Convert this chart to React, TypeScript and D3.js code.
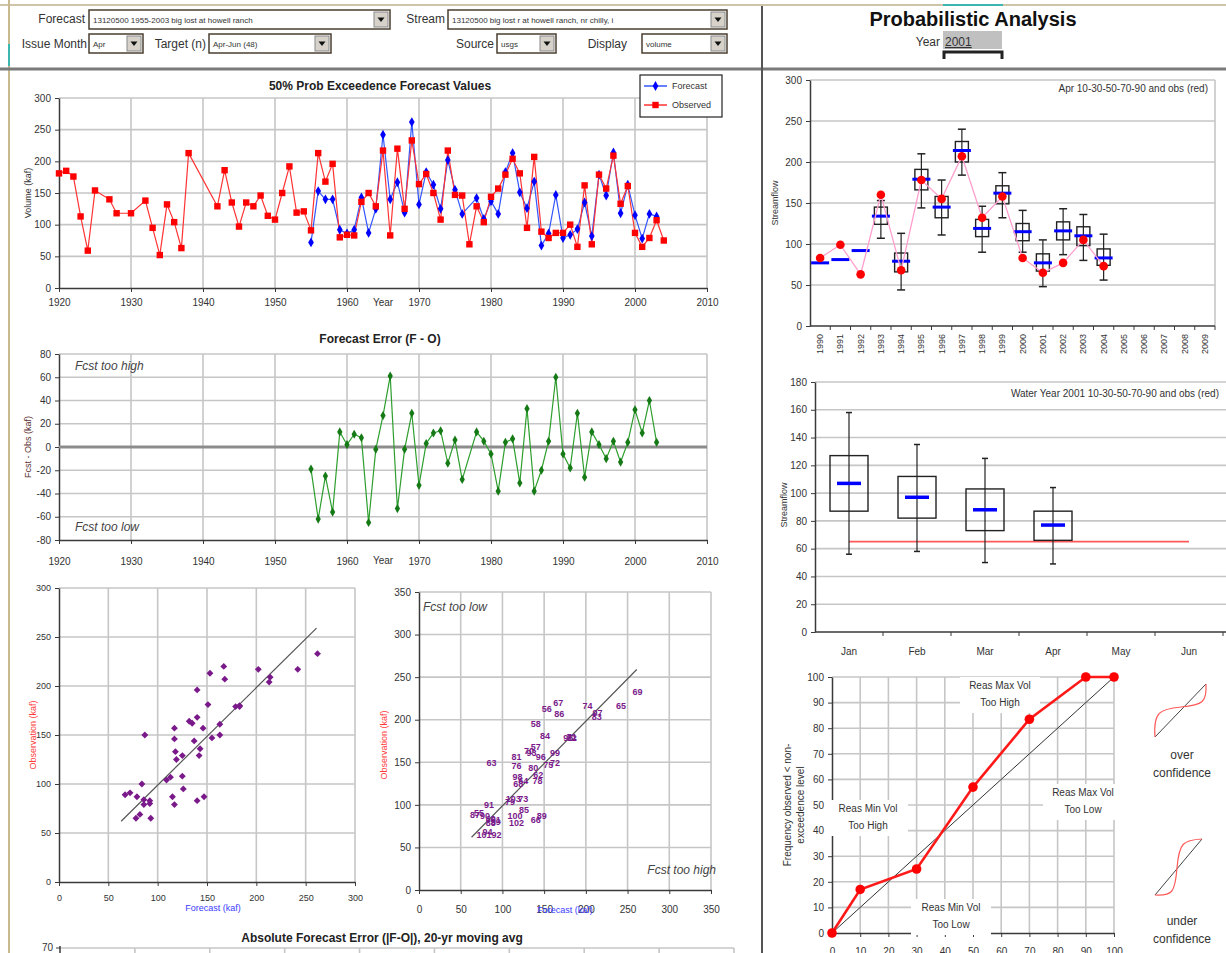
import React, { useEffect, useRef } from 'react';
import * as d3 from 'd3';

const FONT = '"Liberation Sans", Arial, sans-serif';

// 50% exceedence forecast and observed Apr-Jun volume (kaf)
const obsYears = [1920, 1921, 1922, 1923, 1924, 1925, 1927, 1928, 1930, 1932, 1933, 1934, 1935, 1936, 1937, 1938,
  1942, 1943, 1944, 1945, 1946, 1947, 1948, 1949, 1950, 1951, 1952, 1953, 1954,
  1955, 1956, 1957, 1958, 1959, 1960, 1961, 1962, 1963, 1964, 1965, 1966, 1967, 1968, 1969,
  1970, 1971, 1972, 1973, 1974, 1975, 1976, 1977, 1978, 1979, 1980, 1981, 1982, 1983, 1984,
  1985, 1986, 1987, 1988, 1989, 1990, 1991, 1992, 1993, 1994, 1995, 1996, 1997, 1998, 1999,
  2000, 2001, 2002, 2003, 2004];
const obsValues = [181, 185, 176, 113, 59, 154, 140, 118, 118, 138, 95, 52, 132, 104, 63, 213,
  129, 186, 135, 97, 135, 129, 146, 114, 108, 150, 192, 119, 121,
  91, 213, 168, 196, 80, 84, 83, 136, 150, 129, 217, 83, 220, 125, 233,
  164, 180, 150, 108, 217, 147, 146, 69, 129, 104, 144, 157, 179, 204, 181,
  95, 207, 89, 79, 87, 87, 100, 65, 162, 69, 179, 157, 209, 133, 161,
  87, 65, 79, 107, 75];

const fcstYears = [1955, 1956, 1957, 1958, 1959, 1960, 1961, 1962, 1963, 1964, 1965, 1966, 1967, 1968, 1969,
  1970, 1971, 1972, 1973, 1974, 1975, 1976, 1978, 1979, 1980, 1981, 1982, 1983, 1984,
  1985, 1986, 1987, 1988, 1989, 1990, 1991, 1992, 1993, 1994, 1995, 1996, 1997, 1998, 1999,
  2000, 2001, 2002, 2003];
const fcstValues = [72, 153, 140, 140, 92, 86, 92, 143, 87, 125, 242, 140, 167, 119, 262,
  132, 183, 163, 125, 202, 155, 117, 142, 109, 137, 117, 183, 213, 151,
  126, 168, 67, 86, 147, 79, 84, 93, 135, 82, 179, 146, 214, 118, 163,
  115, 78, 117, 113];

// forecast error F - O (kaf), same years as the forecasts
const errValues = [-19, -62, -25, -56, 13, 2, 11, 8, -65, -2, 27, 61, -53, -2, 29,
  -33, 3, 12, 14, -14, 6, -28, 13, 5, -6, -38, 4, 7, -31,
  33, -38, -20, 5, 60, -6, -18, 29, -26, 13, 2, -10, 5, -13, 4,
  32, 12, 40, 4];

const fitLine = [[63, 62], [261, 259]];
const yearTicks = [1920, 1930, 1940, 1950, 1960, 1970, 1980, 1990, 2000, 2010];

// April forecast distribution per year
const aprYears = ['1990', '1991', '1992', '1993', '1994', '1995', '1996', '1997', '1998', '1999',
  '2000', '2001', '2002', '2003', '2004', '2005', '2006', '2007', '2008', '2009'];
const aprP10 = [null, null, null, 107, 44, 144, 111, 184, 90, 132, 90, 48, 87, 80, 56];
const aprP30 = [null, null, null, 124, 66, 166, 132, 200, 109, 149, 104, 67, 105, 98, 74];
const aprP50 = [77, 81, 92, 134, 79, 179, 145, 214, 119, 162, 115, 77, 116, 110, 83];
const aprP70 = [null, null, null, 145, 89, 191, 158, 225, 130, 171, 125, 88, 127, 121, 94];
const aprP90 = [null, null, null, 153, 113, 210, 178, 240, 146, 187, 141, 105, 143, 136, 112];
const aprObs = [83, 99, 63, 160, 68, 178, 155, 207, 132, 158, 83, 65, 77, 105, 73];

// water year 2001 forecasts by issue month
const months = ['Jan', 'Feb', 'Mar', 'Apr', 'May', 'Jun'];
const wyP10 = [56, 58, 50, 49];
const wyP30 = [87, 82, 73, 66];
const wyP50 = [107, 97, 88, 77];
const wyP70 = [127, 112, 103, 87];
const wyP90 = [158, 135, 125, 104];
const wyObs = 65;

// reliability
const relLevels = [0, 10, 30, 50, 70, 90, 100];
const relFreq = [0, 17, 25, 57, 83.5, 100, 100];

const GRID = '#c6c6c6';
const AXIS = '#3a3a3a';
const TICK_TXT = '#333';

function txt(g: any, x: number, y: number, s: string, size: number, opts: any = {}) {
  const t = g.append('text')
    .attr('x', x).attr('y', y)
    .attr('font-family', FONT)
    .attr('font-size', size)
    .attr('fill', opts.fill || '#222')
    .attr('text-anchor', opts.anchor || 'start')
    .text(s);
  if (opts.bold) t.attr('font-weight', 'bold');
  if (opts.italic) t.attr('font-style', 'italic');
  return t;
}

function vtxt(g: any, x: number, y: number, s: string, size: number, fill: string) {
  g.append('text')
    .attr('transform', `translate(${x},${y}) rotate(-90)`)
    .attr('font-family', FONT).attr('font-size', size)
    .attr('fill', fill).attr('text-anchor', 'middle')
    .text(s);
}

function hGrid(g: any, x0: number, x1: number, y: any, ticks: number[]) {
  ticks.forEach(t => g.append('line')
    .attr('x1', x0).attr('x2', x1).attr('y1', y(t)).attr('y2', y(t))
    .attr('stroke', GRID).attr('stroke-width', 1.6));
}

function vGrid(g: any, x: any, y0: number, y1: number, ticks: number[]) {
  ticks.forEach(t => g.append('line')
    .attr('x1', x(t)).attr('x2', x(t)).attr('y1', y0).attr('y2', y1)
    .attr('stroke', GRID).attr('stroke-width', 1.6));
}

function styleAxis(a: any, size = 10) {
  a.select('.domain').attr('stroke', AXIS).attr('stroke-width', 1.5);
  a.selectAll('line').attr('stroke', AXIS);
  a.selectAll('text').attr('font-family', FONT).attr('font-size', size).attr('fill', TICK_TXT);
}

function leftAxis(g: any, x: number, y: any, ticks: number[], size = 10) {
  const a = g.append('g').attr('transform', `translate(${x},0)`)
    .call(d3.axisLeft(y).tickValues(ticks).tickSize(4).tickSizeOuter(0).tickPadding(4)
      .tickFormat((d: any) => String(d)));
  styleAxis(a, size);
}

function bottomAxis(g: any, y: number, x: any, ticks: number[], pad = 6, size = 10) {
  const a = g.append('g').attr('transform', `translate(0,${y})`)
    .call(d3.axisBottom(x).tickValues(ticks).tickSize(4).tickSizeOuter(0).tickPadding(pad)
      .tickFormat((d: any) => String(d)));
  styleAxis(a, size);
}

function dropdown(g: any, x: number, y: number, w: number, h: number, label: string) {
  g.append('rect').attr('x', x).attr('y', y).attr('width', w).attr('height', h)
    .attr('fill', '#fff').attr('stroke', '#4a3f30').attr('stroke-width', 1.5);
  g.append('rect').attr('x', x + w - 16).attr('y', y + 2).attr('width', 14).attr('height', h - 4)
    .attr('fill', '#d6d2ca').attr('stroke', '#8a8a8a');
  g.append('path').attr('d', `M${x + w - 12.5},${y + h / 2 - 2} l7,0 l-3.5,4.5 z`).attr('fill', '#111');
  txt(g, x + 4, y + h / 2 + 3, label, 8, { fill: '#333' });
}

function boxPlot(g: any, cx: number, y: any, p10: number, p30: number, p50: number, p70: number, p90: number,
  boxW: number, capW: number, medW: number, medStroke: number) {
  g.append('line').attr('x1', cx).attr('x2', cx).attr('y1', y(p10)).attr('y2', y(p90))
    .attr('stroke', '#222').attr('stroke-width', 1.2);
  [p10, p90].forEach(v => g.append('line').attr('x1', cx - capW / 2).attr('x2', cx + capW / 2)
    .attr('y1', y(v)).attr('y2', y(v)).attr('stroke', '#222').attr('stroke-width', 1.5));
  g.append('rect').attr('x', cx - boxW / 2).attr('y', y(p70)).attr('width', boxW).attr('height', y(p30) - y(p70))
    .attr('fill', 'none').attr('stroke', '#222').attr('stroke-width', 1.4);
  g.append('line').attr('x1', cx - medW / 2).attr('x2', cx + medW / 2).attr('y1', y(p50)).attr('y2', y(p50))
    .attr('stroke', '#0000ff').attr('stroke-width', medStroke);
}

const App = () => {
  const svgRef = useRef<SVGSVGElement | null>(null);

  useEffect(() => {
    const svg = d3.select(svgRef.current);
    svg.selectAll('*').remove();
    const root = svg.append('g');

    // ---------- frame and header ----------
    root.append('line').attr('x1', 0).attr('x2', 1226).attr('y1', 5).attr('y2', 5).attr('stroke', '#cfc4a8').attr('stroke-width', 2);
    root.append('line').attr('x1', 943).attr('x2', 1003).attr('y1', 5).attr('y2', 5).attr('stroke', '#3bb6b0').attr('stroke-width', 2);
    root.append('line').attr('x1', 9).attr('x2', 9).attr('y1', 0).attr('y2', 953).attr('stroke', '#c9b98f').attr('stroke-width', 2);
    root.append('line').attr('x1', 9).attr('x2', 9).attr('y1', 44).attr('y2', 66).attr('stroke', '#3bb6b0').attr('stroke-width', 2);
    root.append('line').attr('x1', 0).attr('x2', 1226).attr('y1', 69).attr('y2', 69).attr('stroke', '#7a7a7a').attr('stroke-width', 3);
    root.append('line').attr('x1', 762).attr('x2', 762).attr('y1', 6).attr('y2', 953).attr('stroke', '#555').attr('stroke-width', 2);

    txt(root, 85, 23, 'Forecast', 12, { anchor: 'end', fill: '#333' });
    dropdown(root, 89, 10, 301, 19, '13120500 1955-2003 big lost at howell ranch');
    txt(root, 445, 23, 'Stream', 12, { anchor: 'end', fill: '#333' });
    dropdown(root, 448, 10, 279, 19, '13120500 big lost r at howell ranch, nr chilly, i');
    txt(root, 87, 48, 'Issue Month', 12, { anchor: 'end', fill: '#333' });
    dropdown(root, 89, 34, 54, 19, 'Apr');
    txt(root, 206, 48, 'Target (n)', 12, { anchor: 'end', fill: '#333' });
    dropdown(root, 209, 34, 122, 19, 'Apr-Jun (48)');
    txt(root, 494, 48, 'Source', 12, { anchor: 'end', fill: '#333' });
    dropdown(root, 497, 34, 59, 19, 'usgs');
    txt(root, 627, 48, 'Display', 12, { anchor: 'end', fill: '#333' });
    dropdown(root, 642, 34, 85, 19, 'volume');

    txt(root, 973, 26, 'Probabilistic Analysis', 20, { anchor: 'middle', bold: true, fill: '#111' });
    root.append('rect').attr('x', 943).attr('y', 31).attr('width', 59).attr('height', 18).attr('fill', '#c0c0c0');
    txt(root, 940, 46, 'Year', 12, { anchor: 'end', fill: '#333' });
    txt(root, 945, 46, '2001', 12, { fill: '#333' }).attr('text-decoration', 'underline');
    root.append('path').attr('d', 'M944,59 L944,52 L1002,52 L1002,59').attr('fill', 'none')
      .attr('stroke', '#222').attr('stroke-width', 3);

    // ---------- 50% exceedence time series ----------
    const g1 = root.append('g');
    const x1 = d3.scaleLinear().domain([1920, 2010]).range([59, 707]);
    const y1 = d3.scaleLinear().domain([0, 300]).range([288, 98]);
    hGrid(g1, 59, 707, y1, [50, 100, 150, 200, 250, 300]);
    vGrid(g1, x1, 98, 288, yearTicks.slice(1));
    leftAxis(g1, 59, y1, [0, 50, 100, 150, 200, 250, 300]);
    bottomAxis(g1, 288, x1, yearTicks, 7);
    txt(g1, 380, 90, '50% Prob Exceedence Forecast Values', 12, { anchor: 'middle', bold: true, fill: '#222' });
    txt(g1, 383, 306, 'Year', 10, { anchor: 'middle', fill: '#333' });
    vtxt(g1, 31, 193, 'Volume (kaf)', 9, '#333');

    const fcstPts = fcstYears.map((yr, i) => [yr, fcstValues[i]]);
    const obsPts = obsYears.map((yr, i) => [yr, obsValues[i]]);
    const line1 = d3.line<number[]>().x(d => x1(d[0])).y(d => y1(d[1]));
    g1.append('path').attr('d', line1(fcstPts)).attr('fill', 'none').attr('stroke', '#3355ff').attr('stroke-width', 1.2);
    g1.append('path').attr('d', line1(obsPts)).attr('fill', 'none').attr('stroke', '#ff3333').attr('stroke-width', 1.2);
    const diamond = d3.symbol().type(d3.symbolDiamond).size(28);
    fcstPts.forEach(d => g1.append('path').attr('d', diamond()).attr('transform', `translate(${x1(d[0])},${y1(d[1])})`).attr('fill', '#0000ff'));
    obsPts.forEach(d => g1.append('rect').attr('x', x1(d[0]) - 3.2).attr('y', y1(d[1]) - 3.2)
      .attr('width', 6.4).attr('height', 6.4).attr('fill', '#ff0000'));

    // legend
    g1.append('rect').attr('x', 640).attr('y', 75).attr('width', 82).attr('height', 42)
      .attr('fill', '#fff').attr('stroke', '#222').attr('stroke-width', 1.2);
    g1.append('line').attr('x1', 644).attr('x2', 667).attr('y1', 86).attr('y2', 86).attr('stroke', '#3355ff').attr('stroke-width', 1.5);
    g1.append('path').attr('d', diamond()).attr('transform', 'translate(655.5,86)').attr('fill', '#0000ff');
    txt(g1, 672, 89, 'Forecast', 9, { fill: '#333' });
    g1.append('line').attr('x1', 644).attr('x2', 667).attr('y1', 105).attr('y2', 105).attr('stroke', '#ff3333').attr('stroke-width', 1.5);
    g1.append('rect').attr('x', 652.3).attr('y', 101.8).attr('width', 6.4).attr('height', 6.4).attr('fill', '#ff0000');
    txt(g1, 672, 108, 'Observed', 9, { fill: '#333' });

    // ---------- forecast error ----------
    const g2 = root.append('g');
    const y2 = d3.scaleLinear().domain([-80, 80]).range([540, 354]);
    hGrid(g2, 59, 707, y2, [-60, -40, -20, 20, 40, 60, 80]);
    vGrid(g2, x1, 354, 540, yearTicks.slice(1));
    leftAxis(g2, 59, y2, [-80, -60, -40, -20, 0, 20, 40, 60, 80]);
    bottomAxis(g2, 540, x1, yearTicks, 14);
    g2.append('line').attr('x1', 59).attr('x2', 707).attr('y1', y2(0)).attr('y2', y2(0))
      .attr('stroke', '#8c8c8c').attr('stroke-width', 3);
    txt(g2, 380, 343, 'Forecast Error (F - O)', 12, { anchor: 'middle', bold: true, fill: '#222' });
    txt(g2, 383, 564, 'Year', 10, { anchor: 'middle', fill: '#333' });
    txt(g2, 75, 370, 'Fcst too high', 12, { italic: true, fill: '#444' });
    txt(g2, 75, 531, 'Fcst too low', 12, { italic: true, fill: '#444' });
    vtxt(g2, 31, 447, 'Fcst - Obs (kaf)', 9, '#5a3030');
    const errPts = fcstYears.map((yr, i) => [yr, errValues[i]]);
    const line2 = d3.line<number[]>().x(d => x1(d[0])).y(d => y2(d[1]));
    g2.append('path').attr('d', line2(errPts)).attr('fill', 'none').attr('stroke', '#2e9e2e').attr('stroke-width', 1.2);
    const dSmall = d3.symbol().type(d3.symbolDiamond).size(24);
    errPts.forEach(d => g2.append('path').attr('d', dSmall()).attr('transform', `translate(${x1(d[0])},${y2(d[1])})`).attr('fill', '#157a15'));

    // ---------- scatter plots ----------
    const pairs = fcstYears.map((yr, i) => ({ yr, f: fcstValues[i], o: obsValues[obsYears.indexOf(yr)] }));

    const g3 = root.append('g');
    const xs = d3.scaleLinear().domain([0, 300]).range([59, 355]);
    const ys = d3.scaleLinear().domain([0, 300]).range([882, 588]);
    const t300 = [0, 50, 100, 150, 200, 250, 300];
    hGrid(g3, 59, 355, ys, t300.slice(1));
    vGrid(g3, xs, 588, 882, t300.slice(1));
    leftAxis(g3, 59, ys, t300, 9);
    bottomAxis(g3, 882, xs, t300, 9, 9);
    g3.append('line').attr('x1', xs(fitLine[0][0])).attr('y1', ys(fitLine[0][1]))
      .attr('x2', xs(fitLine[1][0])).attr('y2', ys(fitLine[1][1])).attr('stroke', '#555').attr('stroke-width', 1.2);
    const dPurple = d3.symbol().type(d3.symbolDiamond2).size(30);
    pairs.forEach(p => g3.append('path').attr('d', dPurple()).attr('transform', `translate(${xs(p.f)},${ys(p.o)})`).attr('fill', '#7a1a8a'));
    vtxt(g3, 36, 735, 'Observation (kaf)', 9, '#ff3b3b');
    txt(g3, 213, 911, 'Forecast (kaf)', 9, { anchor: 'middle', fill: '#3b3bff' });

    const g4 = root.append('g');
    const xs2 = d3.scaleLinear().domain([0, 350]).range([419, 711]);
    const ys2 = d3.scaleLinear().domain([0, 350]).range([890, 592]);
    const t350 = [0, 50, 100, 150, 200, 250, 300, 350];
    hGrid(g4, 419, 711, ys2, t350.slice(1));
    vGrid(g4, xs2, 592, 890, t350.slice(1));
    leftAxis(g4, 419, ys2, t350);
    bottomAxis(g4, 890, xs2, t350, 12);
    g4.append('line').attr('x1', xs2(fitLine[0][0])).attr('y1', ys2(fitLine[0][1]))
      .attr('x2', xs2(fitLine[1][0])).attr('y2', ys2(fitLine[1][1])).attr('stroke', '#555').attr('stroke-width', 1.2);
    txt(g4, 565, 913, 'Forecast (kaf)', 9, { anchor: 'middle', fill: '#3b3bff' });
    pairs.forEach(p => txt(g4, xs2(p.f), ys2(p.o) + 3.5, String(p.yr - 1900), 9, { anchor: 'middle', bold: true, fill: '#7a1a8a' }));
    vtxt(g4, 387, 745, 'Observation (kaf)', 9, '#ff3b3b');
    txt(g4, 423, 611, 'Fcst too low', 12, { italic: true, fill: '#444' });
    txt(g4, 716, 874, 'Fcst too high', 12, { italic: true, fill: '#444', anchor: 'end' });

    // ---------- abs error chart (cut off) ----------
    const g5 = root.append('g');
    txt(g5, 382, 942, 'Absolute Forecast Error (|F-O|), 20-yr moving avg', 12, { anchor: 'middle', bold: true, fill: '#222' });
    const x5 = d3.scaleLinear().domain([1920, 2010]).range([60, 734]);
    g5.append('line').attr('x1', 60).attr('x2', 734).attr('y1', 948).attr('y2', 948).attr('stroke', GRID).attr('stroke-width', 1.6);
    vGrid(g5, x5, 948, 953, yearTicks.slice(1));
    g5.append('line').attr('x1', 60).attr('x2', 60).attr('y1', 946).attr('y2', 953).attr('stroke', AXIS).attr('stroke-width', 1.5);
    g5.append('line').attr('x1', 56).attr('x2', 60).attr('y1', 948).attr('y2', 948).attr('stroke', AXIS);
    txt(g5, 53, 951, '70', 10, { anchor: 'end', fill: TICK_TXT });

    // ---------- April distribution by year ----------
    const g6 = root.append('g');
    const xb = d3.scaleBand<string>().domain(aprYears).range([810, 1215]);
    const yb = d3.scaleLinear().domain([0, 300]).range([326, 80]);
    hGrid(g6, 810, 1215, yb, [50, 100, 150, 200, 250, 300]);
    g6.append('line').attr('x1', 1215).attr('x2', 1215).attr('y1', 80).attr('y2', 326).attr('stroke', GRID).attr('stroke-width', 1.6);
    leftAxis(g6, 810, yb, t300);
    g6.append('line').attr('x1', 810).attr('x2', 1215).attr('y1', 326).attr('y2', 326).attr('stroke', AXIS).attr('stroke-width', 1.5);
    aprYears.forEach(yr => {
      const bx = (xb(yr) as number) + xb.bandwidth();
      g6.append('line').attr('x1', bx).attr('x2', bx).attr('y1', 326).attr('y2', 330).attr('stroke', AXIS);
      g6.append('text').attr('transform', `translate(${(xb(yr) as number) + xb.bandwidth() / 2 + 3},334) rotate(-90)`)
        .attr('text-anchor', 'end').attr('font-family', FONT).attr('font-size', 9).attr('fill', TICK_TXT).text(yr);
    });
    txt(g6, 1208, 92, 'Apr 10-30-50-70-90 and obs (red)', 10, { anchor: 'end', fill: '#333' });
    vtxt(g6, 778, 203, 'Streamflow', 9, '#333');
    const cxb = (yr: string) => (xb(yr) as number) + xb.bandwidth() / 2;
    aprP50.forEach((m, i) => {
      const cx = cxb(aprYears[i]);
      if (aprP10[i] != null) {
        boxPlot(g6, cx, yb, aprP10[i] as number, aprP30[i] as number, m, aprP70[i] as number, aprP90[i] as number, 13, 8, 18, 3);
      } else {
        g6.append('line').attr('x1', cx - 9).attr('x2', cx + 9).attr('y1', yb(m)).attr('y2', yb(m))
          .attr('stroke', '#0000ff').attr('stroke-width', 3);
      }
    });
    const obsLine = d3.line<number>().x((d, i) => cxb(aprYears[i])).y(d => yb(d));
    g6.append('path').attr('d', obsLine(aprObs)).attr('fill', 'none').attr('stroke', '#ff9fcf').attr('stroke-width', 1.3);
    aprObs.forEach((v, i) => g6.append('circle').attr('cx', cxb(aprYears[i])).attr('cy', yb(v)).attr('r', 4.3).attr('fill', '#ff0000'));

    // ---------- water year 2001 by month ----------
    const g7 = root.append('g');
    const xm = d3.scaleBand<string>().domain(months).range([815, 1223]);
    const ym = d3.scaleLinear().domain([0, 180]).range([632, 382]);
    const t180 = [0, 20, 40, 60, 80, 100, 120, 140, 160, 180];
    hGrid(g7, 815, 1226, ym, t180.slice(1));
    leftAxis(g7, 815, ym, t180);
    g7.append('line').attr('x1', 815).attr('x2', 1226).attr('y1', 632).attr('y2', 632).attr('stroke', AXIS).attr('stroke-width', 1.5);
    months.forEach(mn => {
      const bx = (xm(mn) as number) + xm.bandwidth();
      g7.append('line').attr('x1', bx).attr('x2', bx).attr('y1', 632).attr('y2', 636).attr('stroke', AXIS);
      txt(g7, (xm(mn) as number) + xm.bandwidth() / 2, 655, mn, 10, { anchor: 'middle', fill: TICK_TXT });
    });
    txt(g7, 1219, 397, 'Water Year 2001 10-30-50-70-90 and obs (red)', 10, { anchor: 'end', fill: '#333' });
    vtxt(g7, 787, 505, 'Streamflow', 9, '#333');
    const cxm = (mn: string) => (xm(mn) as number) + xm.bandwidth() / 2;
    g7.append('line').attr('x1', cxm('Jan')).attr('x2', cxm('Jun')).attr('y1', ym(wyObs)).attr('y2', ym(wyObs))
      .attr('stroke', '#ff5a5a').attr('stroke-width', 1.8);
    wyP50.forEach((m, i) => boxPlot(g7, cxm(months[i]), ym, wyP10[i], wyP30[i], m, wyP70[i], wyP90[i], 38, 6, 24, 3.5));

    // ---------- reliability ----------
    const g8 = root.append('g');
    const xr = d3.scaleLinear().domain([0, 100]).range([832, 1114]);
    const yr = d3.scaleLinear().domain([0, 100]).range([933, 677]);
    const t100 = [0, 10, 20, 30, 40, 50, 60, 70, 80, 90, 100];
    hGrid(g8, 832, 1114, yr, t100.slice(1));
    vGrid(g8, xr, 677, 933, t100.slice(1));
    leftAxis(g8, 832, yr, t100);
    bottomAxis(g8, 933, xr, t100, 11);
    const relLabels = [
      [1000, 689, 'Reas Max Vol', 'Too High'],
      [868, 812, 'Reas Min Vol', 'Too High'],
      [1083, 796, 'Reas Max Vol', 'Too Low'],
      [951, 911, 'Reas Min Vol', 'Too Low'],
    ];
    relLabels.forEach(l => {
      g8.append('rect').attr('x', (l[0] as number) - 40).attr('y', (l[1] as number) - 12).attr('width', 80).attr('height', 36).attr('fill', '#fff');
      txt(g8, l[0] as number, l[1] as number, l[2] as string, 10, { anchor: 'middle', fill: '#333' });
      txt(g8, l[0] as number, (l[1] as number) + 17, l[3] as string, 10, { anchor: 'middle', fill: '#333' });
    });
    g8.append('line').attr('x1', xr(0)).attr('y1', yr(0)).attr('x2', xr(100)).attr('y2', yr(100)).attr('stroke', '#333').attr('stroke-width', 1);
    const relLine = d3.line<number>().x((d, i) => xr(relLevels[i])).y(d => yr(d));
    g8.append('path').attr('d', relLine(relFreq)).attr('fill', 'none').attr('stroke', '#ff1a1a').attr('stroke-width', 2.6);
    relFreq.forEach((v, i) => g8.append('circle').attr('cx', xr(relLevels[i])).attr('cy', yr(v)).attr('r', 4.8).attr('fill', '#ff0000'));
    g8.append('text').attr('transform', 'translate(791,805) rotate(-90)').attr('text-anchor', 'middle')
      .attr('font-family', FONT).attr('font-size', 10).attr('fill', '#333').text('Frequency observed < non-');
    g8.append('text').attr('transform', 'translate(804,805) rotate(-90)').attr('text-anchor', 'middle')
      .attr('font-family', FONT).attr('font-size', 10).attr('fill', '#333').text('exceedence level');

    // confidence sketches
    const g9 = root.append('g');
    g9.append('line').attr('x1', 1155).attr('y1', 737).attr('x2', 1206).attr('y2', 684).attr('stroke', '#444').attr('stroke-width', 1);
    g9.append('path').attr('d', 'M1155,737 C1153,712 1160,709 1181,707 C1203,705 1207,702 1206,684')
      .attr('fill', 'none').attr('stroke', '#ff5a5a').attr('stroke-width', 1.2);
    txt(g9, 1182, 759, 'over', 12, { anchor: 'middle', fill: '#333' });
    txt(g9, 1182, 777, 'confidence', 12, { anchor: 'middle', fill: '#333' });
    g9.append('line').attr('x1', 1155).attr('y1', 895).attr('x2', 1202).attr('y2', 839).attr('stroke', '#444').attr('stroke-width', 1);
    g9.append('path').attr('d', 'M1155,895 C1172,896 1175,893 1177,868 C1179,843 1183,840 1202,839')
      .attr('fill', 'none').attr('stroke', '#ff5a5a').attr('stroke-width', 1.2);
    txt(g9, 1182, 925, 'under', 12, { anchor: 'middle', fill: '#333' });
    txt(g9, 1182, 943, 'confidence', 12, { anchor: 'middle', fill: '#333' });
  }, []);

  return (
    <div style={{ position: 'absolute', left: 0, top: 0, width: 1226, height: 953, background: '#fff', overflow: 'hidden' }}>
      <svg ref={svgRef} width={1226} height={953} style={{ display: 'block' }}></svg>
    </div>
  );
};

export default App;
